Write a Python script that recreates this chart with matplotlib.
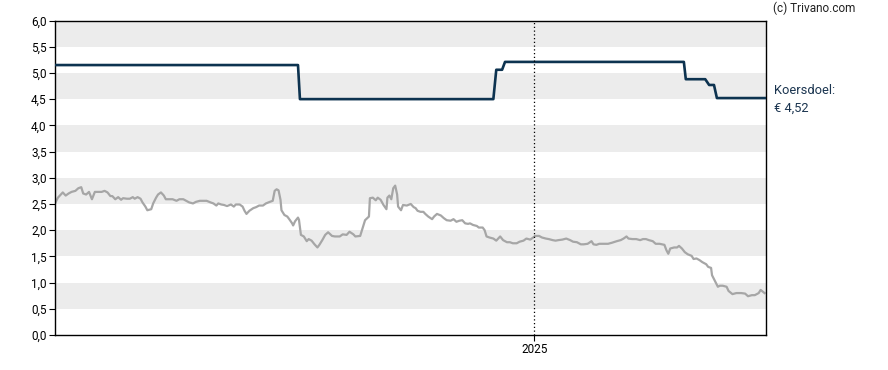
import matplotlib

matplotlib.use("Agg")
import matplotlib.pyplot as plt
import matplotlib.dates as mdates
import numpy as np

plt.rcParams["font.family"] = ["Roboto", "DejaVu Sans"]

START = np.datetime64("2023-08-27")
END = np.datetime64("2025-08-27")

# share price: day offset from START, price in EUR
price_days = [
    0, 3, 8, 11, 14, 17, 21, 24, 27, 29, 32, 35, 38, 41, 45, 48, 51, 54, 57, 59,
    62, 65, 68, 70, 74, 77, 80, 82, 85, 88, 90, 93, 95, 99, 101, 104, 106, 109, 112, 114,
    118, 121, 125, 128, 132, 135, 138, 142, 145, 149, 153, 156, 160, 163, 166, 168, 171, 174, 177, 181,
    184, 186, 190, 193, 195, 197, 200, 204, 207, 210, 214, 217, 221, 224, 226, 228, 230, 232, 233, 236,
    239, 241, 244, 245, 247, 250, 251, 253, 256, 259, 261, 264, 267, 270, 272, 275, 278, 281, 285, 288,
    293, 296, 300, 303, 307, 309, 314, 317, 319, 323, 324, 327, 330, 332, 335, 338, 341, 342, 344, 346,
    348, 350, 352, 353, 356, 358, 362, 366, 369, 371, 373, 376, 379, 381, 384, 388, 390, 393, 397, 400,
    403, 407, 410, 413, 416, 419, 422, 425, 427, 430, 434, 436, 440, 442, 444, 447, 451, 454, 458, 461,
    465, 468, 471, 475, 478, 482, 485, 489, 492, 494, 498, 501, 505, 508, 512, 515, 518, 522, 526, 530,
    533, 537, 541, 544, 548, 552, 554, 557, 560, 565, 569, 573, 578, 582, 585, 588, 590, 594, 598, 602,
    605, 608, 611, 615, 618, 622, 627, 629, 631, 633, 637, 640, 642, 645, 648, 651, 655, 657, 660, 663,
    666, 670, 672, 675, 676, 679, 682, 684, 687, 691, 693, 697, 701, 706, 710, 713, 717, 720, 724, 726,
    728, 730,
]
price = [
    2.51, 2.62, 2.72, 2.66, 2.70, 2.73, 2.75, 2.80, 2.82, 2.70, 2.68, 2.73, 2.59, 2.73, 2.73, 2.73, 2.75, 2.72, 2.65, 2.65,
    2.59, 2.63, 2.58, 2.61, 2.60, 2.60, 2.63, 2.60, 2.63, 2.60, 2.53, 2.45, 2.38, 2.40, 2.51, 2.62, 2.68, 2.72, 2.66, 2.59,
    2.59, 2.59, 2.56, 2.59, 2.59, 2.56, 2.53, 2.51, 2.54, 2.56, 2.56, 2.56, 2.53, 2.51, 2.47, 2.51, 2.49, 2.48, 2.46, 2.49,
    2.45, 2.49, 2.49, 2.45, 2.37, 2.31, 2.37, 2.42, 2.44, 2.47, 2.47, 2.51, 2.54, 2.56, 2.75, 2.78, 2.76, 2.58, 2.38, 2.29,
    2.26, 2.21, 2.13, 2.09, 2.17, 2.24, 2.20, 1.91, 1.88, 1.79, 1.83, 1.80, 1.73, 1.67, 1.72, 1.81, 1.91, 1.96, 1.89, 1.88,
    1.88, 1.92, 1.91, 1.97, 1.92, 1.88, 1.89, 2.07, 2.19, 2.26, 2.61, 2.62, 2.57, 2.62, 2.58, 2.48, 2.40, 2.62, 2.66, 2.59,
    2.80, 2.85, 2.68, 2.45, 2.38, 2.48, 2.47, 2.50, 2.44, 2.42, 2.37, 2.35, 2.35, 2.31, 2.26, 2.21, 2.26, 2.31, 2.28, 2.23,
    2.19, 2.18, 2.21, 2.16, 2.18, 2.19, 2.13, 2.12, 2.13, 2.10, 2.08, 2.05, 2.05, 2.00, 1.88, 1.86, 1.84, 1.80, 1.88, 1.81,
    1.77, 1.77, 1.75, 1.75, 1.78, 1.80, 1.84, 1.82, 1.86, 1.89, 1.89, 1.86, 1.84, 1.83, 1.81, 1.80, 1.81, 1.82, 1.84, 1.81,
    1.78, 1.77, 1.73, 1.73, 1.74, 1.79, 1.73, 1.72, 1.74, 1.74, 1.74, 1.76, 1.79, 1.81, 1.84, 1.88, 1.84, 1.83, 1.83, 1.81,
    1.83, 1.83, 1.81, 1.79, 1.74, 1.74, 1.72, 1.62, 1.55, 1.65, 1.67, 1.67, 1.70, 1.65, 1.58, 1.54, 1.51, 1.45, 1.46, 1.43,
    1.39, 1.35, 1.30, 1.28, 1.14, 1.03, 0.92, 0.94, 0.94, 0.92, 0.84, 0.78, 0.80, 0.80, 0.79, 0.74, 0.76, 0.76, 0.80, 0.86,
    0.83, 0.80,
]

# analyst target price (koersdoel)
target_days = [0, 250, 252, 451, 454, 460, 463, 647, 649, 669, 673, 678, 681, 731]
target = [5.15, 5.15, 4.50, 4.50, 5.06, 5.06, 5.21, 5.21, 4.88, 4.88, 4.77, 4.77, 4.52, 4.52]

yticks = np.arange(0, 6.01, 0.5)
band_starts = [0.5, 1.5, 2.5, 3.5, 4.5, 5.5]

price_x = START + np.array(price_days).astype("timedelta64[D]")
target_x = START + np.array(target_days).astype("timedelta64[D]")

fig = plt.figure(figsize=(8.88, 3.70), dpi=100)
ax = fig.add_axes([55 / 888, 35 / 370, 710.5 / 888, 314.5 / 370])

for b in band_starts:
    ax.axhspan(b, b + 0.5, color="#ececec", lw=0, zorder=0)

ax.plot(price_x, price, color="#a6a6a6", lw=1.6, zorder=2)
ax.plot(target_x, target, color="#0d3350", lw=1.9, zorder=3)

yr = np.datetime64("2025-01-01")
ax.axvline(yr, color="black", ls=(0, (1, 2)), lw=0.9, zorder=4)

ax.set_xlim(START, END)
ax.set_ylim(0, 6)
ax.set_yticks(yticks)
ax.set_yticklabels([f"{v:.1f}".replace(".", ",") for v in yticks])
ax.set_xticks([yr])
ax.xaxis.set_major_formatter(mdates.DateFormatter("%Y"))
ax.tick_params(axis="both", labelsize=8.5, length=4, width=0.8, colors="black", pad=2)

for s in ax.spines.values():
    s.set_color("black")
    s.set_linewidth(1.0)

fig.text(773 / 888, 1 - 8 / 370, "(c) Trivano.com", fontsize=8.5, color="#222222",
         ha="left", va="center")
fig.text(774 / 888, 1 - 90 / 370, "Koersdoel:", fontsize=9.3, color="#1b3550",
         ha="left", va="center")
fig.text(774 / 888, 1 - 108 / 370, "\u20ac 4,52", fontsize=9.3, color="#1b3550",
         ha="left", va="center")

fig.savefig("out.png", dpi=100)
